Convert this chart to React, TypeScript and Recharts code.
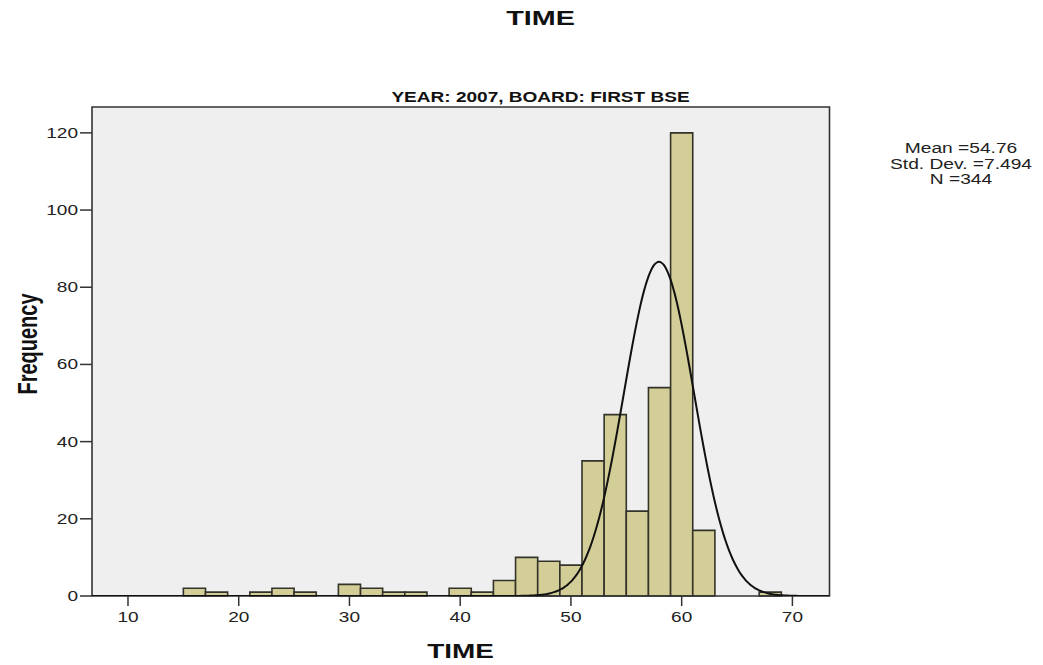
import React from 'react';
import { ComposedChart, Line, XAxis, YAxis, ReferenceArea, CartesianGrid } from 'recharts';

// Histogram bins (width 2) and their frequencies
const binStarts = [15, 17, 19, 21, 23, 25, 27, 29, 31, 33, 35, 37, 39, 41, 43, 45, 47, 49, 51, 53, 55, 57, 59, 61, 63, 65, 67];
const binCounts = [2, 1, 0, 1, 2, 1, 0, 3, 2, 1, 1, 0, 2, 1, 4, 10, 9, 8, 35, 47, 22, 54, 120, 17, 0, 0, 1];
const binWidth = 2;

const xTicks = [10, 20, 30, 40, 50, 60, 70];
const yTicks = [0, 20, 40, 60, 80, 100, 120];

const statLines = ['Mean =54.76', 'Std. Dev. =7.494', 'N =344'];
const sampleSize = 344;

// Normal curve overlay parameters
const curveMean = 57.95;
const curveSd = 3.17;

const X_MIN = 6.75;
const X_MAX = 73.35;
const Y_MAX = 126.7;

const curveData: { x: number; density: number }[] = [];
for (let x = X_MIN; x <= X_MAX + 1e-9; x += 0.2) {
  const z = (x - curveMean) / curveSd;
  const d = (sampleSize * binWidth) / (curveSd * Math.sqrt(2 * Math.PI)) * Math.exp(-0.5 * z * z);
  curveData.push({ x: Math.round(x * 100) / 100, density: d });
}

const FONT = '"Liberation Sans", Arial, Helvetica, sans-serif';
const STRETCH = 1.36;

const XTick = (props: any) => {
  const { x, y, payload } = props;
  return (
    <g transform={`translate(${x},${y + 14}) scale(${STRETCH},1)`}>
      <text textAnchor="middle" fontSize={14} fill="#222" fontFamily={FONT}>
        {payload.value}
      </text>
    </g>
  );
};

const YTick = (props: any) => {
  const { x, y, payload } = props;
  return (
    <g transform={`translate(${x},${y + 5}) scale(${STRETCH},1)`}>
      <text textAnchor="end" fontSize={14} fill="#222" fontFamily={FONT}>
        {payload.value}
      </text>
    </g>
  );
};

export default function App() {
  return (
    <div style={{ position: 'absolute', left: 0, top: 0, width: 1043, height: 665, background: '#fff' }}>
      <ComposedChart
        width={1043}
        height={665}
        data={curveData}
        margin={{ top: 107, right: 213.5, bottom: 39, left: 0 }}
      >
        <CartesianGrid horizontal={false} vertical={false} fill="#efefef" />
        <XAxis
          type="number"
          dataKey="x"
          domain={[X_MIN, X_MAX]}
          ticks={xTicks}
          allowDataOverflow
          axisLine={false}
          tickLine={{ stroke: '#333', strokeWidth: 1.5 }}
          tickSize={10}
          tickMargin={2}
          height={30}
          tick={<XTick />}
        />
        <YAxis
          type="number"
          domain={[0, Y_MAX]}
          ticks={yTicks}
          allowDataOverflow
          axisLine={false}
          tickLine={{ stroke: '#333', strokeWidth: 1.5 }}
          tickSize={12}
          tickMargin={2}
          width={92}
          tick={<YTick />}
        />
        {binStarts.map((start, i) =>
          binCounts[i] > 0 ? (
            <ReferenceArea
              key={start}
              x1={start}
              x2={start + binWidth}
              y1={0}
              y2={binCounts[i]}
              fill="#d3ce97"
              fillOpacity={1}
              stroke="#33332a"
              strokeWidth={1.6}
              ifOverflow="visible"
            />
          ) : null
        )}
        <Line
          type="monotone"
          dataKey="density"
          stroke="#111"
          strokeWidth={2}
          dot={false}
          activeDot={false}
          isAnimationActive={false}
        />
        <ReferenceArea
          x1={X_MIN}
          x2={X_MAX}
          y1={0}
          y2={Y_MAX}
          fill="none"
          stroke="#333"
          strokeWidth={1.6}
          ifOverflow="visible"
        />
      </ComposedChart>
      <svg
        width={1043}
        height={665}
        style={{ position: 'absolute', left: 0, top: 0, pointerEvents: 'none' }}
      >
        <g transform={`translate(540.5,25) scale(1.37,1)`}>
          <text textAnchor="middle" fontSize={21} fontWeight="bold" fill="#111" fontFamily={FONT}>
            TIME
          </text>
        </g>
        <g transform={`translate(540.5,102) scale(${STRETCH},1)`}>
          <text textAnchor="middle" fontSize={14} fontWeight="bold" fill="#111" fontFamily={FONT}>
            YEAR: 2007, BOARD: FIRST BSE
          </text>
        </g>
        <g transform={`translate(460.5,658) scale(1.33,1)`}>
          <text textAnchor="middle" fontSize={21} fontWeight="bold" fill="#111" fontFamily={FONT}>
            TIME
          </text>
        </g>
        <g transform={`translate(37,344) rotate(-90) scale(1,1.35)`}>
          <text textAnchor="middle" fontSize={20} fontWeight="bold" fill="#111" fontFamily={FONT}>
            Frequency
          </text>
        </g>
        {statLines.map((line, i) => (
          <g key={line} transform={`translate(961,${153 + i * 15.5}) scale(1.37,1)`}>
            <text textAnchor="middle" fontSize={14} fill="#222" fontFamily={FONT}>
              {line}
            </text>
          </g>
        ))}
      </svg>
    </div>
  );
}
